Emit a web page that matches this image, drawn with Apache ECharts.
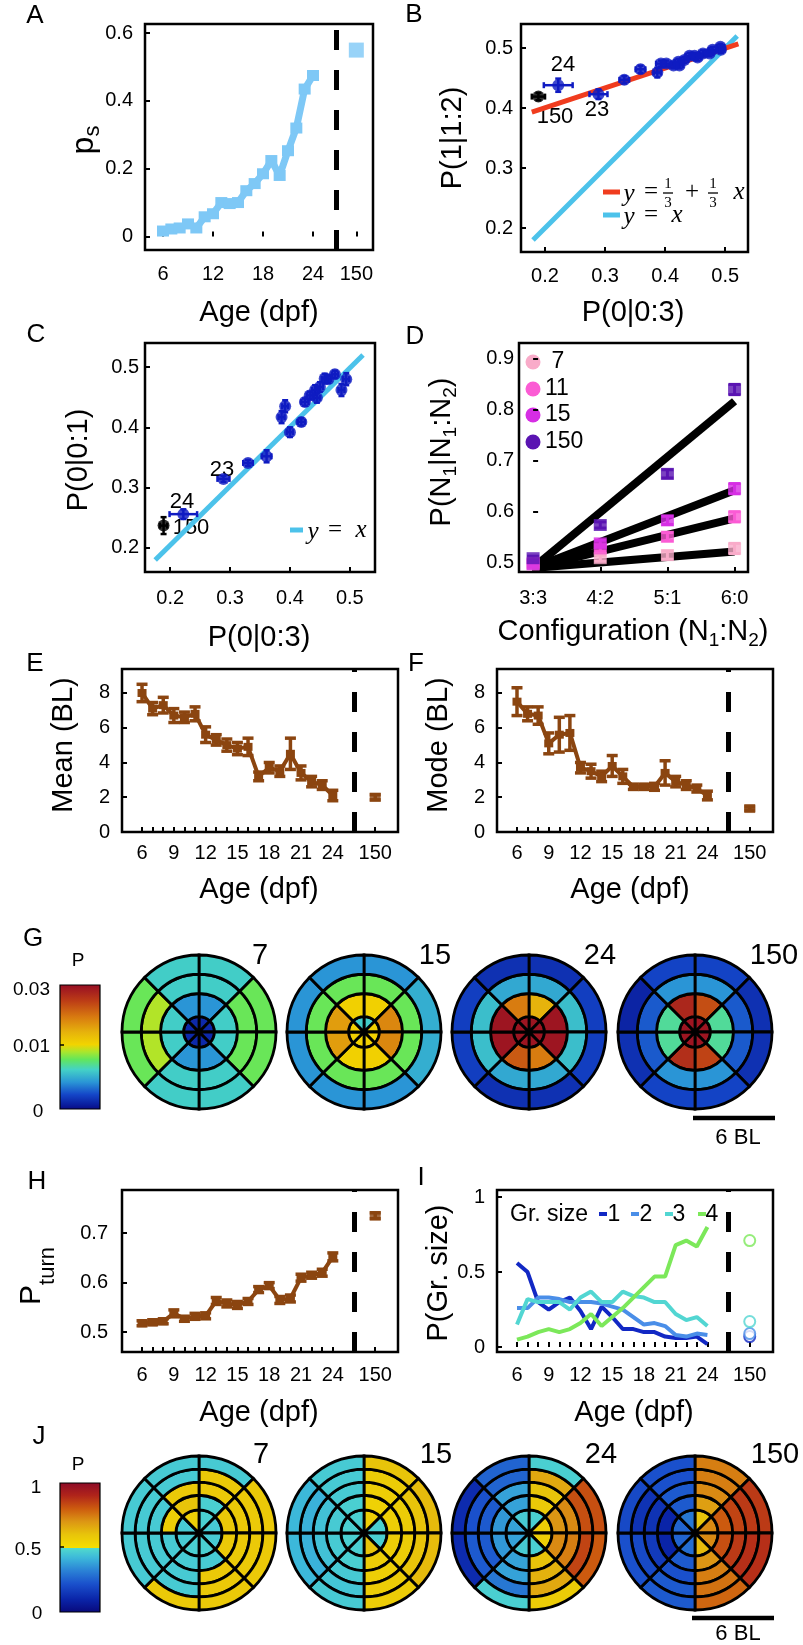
<!DOCTYPE html>
<html>
<head>
<meta charset="utf-8">
<script src="https://cdn.jsdelivr.net/npm/echarts@6/dist/echarts.min.js"></script>
<style>
  html, body { margin: 0; padding: 0; background: #fff; }
  #chart { width: 803px; height: 1645px; }
</style>
</head>
<body>
<div id="chart"></div>
<script>
"use strict";
// ---------- data ----------
const ages = [6, 7, 8, 9, 10, 11, 12, 13, 14, 15, 16, 17, 18, 19, 20, 21, 22, 23, 24];

// A: p_s vs age
const psMean = [0.016, 0.022, 0.025, 0.037, 0.025, 0.058, 0.067, 0.10, 0.097, 0.10, 0.135, 0.156, 0.185, 0.224, 0.18, 0.253, 0.32, 0.435, 0.475];
const ps150 = 0.55;

// B: P(1|1:2) vs P(0|0:3)
const bX = [0.492, 0.493, 0.479, 0.463, 0.474, 0.454, 0.449, 0.4405, 0.432, 0.424, 0.422, 0.414, 0.402, 0.393, 0.387, 0.359, 0.332, 0.289, 0.222];
const bY = [0.502, 0.497, 0.497, 0.491, 0.491, 0.484, 0.487, 0.487, 0.48, 0.471, 0.477, 0.471, 0.474, 0.474, 0.459, 0.4645, 0.447, 0.423, 0.438];
const bXErr = [0.006, 0.006, 0.006, 0.006, 0.006, 0.006, 0.006, 0.006, 0.006, 0.006, 0.006, 0.006, 0.008, 0.008, 0.006, 0.008, 0.008, 0.015, 0.024];
const bYErr = [0.005, 0.005, 0.005, 0.005, 0.005, 0.005, 0.005, 0.005, 0.005, 0.005, 0.005, 0.005, 0.005, 0.005, 0.008, 0.006, 0.006, 0.008, 0.011];
const bAdult = [0.189, 0.419];
const bAdultErr = [0.011, 0.006];
const bFit = [[0.178, 0.393], [0.522, 0.507]];
const bIdentity = [[0.18, 0.18], [0.52, 0.52]];

// C: P(0|0:1) vs P(0|0:3)
const cX = [0.494, 0.486, 0.475, 0.464, 0.458, 0.45, 0.445, 0.442, 0.433, 0.425, 0.419, 0.4, 0.392, 0.386, 0.361, 0.33, 0.289, 0.222];
const cY = [0.48, 0.462, 0.488, 0.48, 0.481, 0.467, 0.449, 0.462, 0.453, 0.442, 0.409, 0.392, 0.435, 0.417, 0.352, 0.341, 0.3145, 0.256];
const cXErr = [0.005, 0.005, 0.005, 0.005, 0.005, 0.005, 0.005, 0.005, 0.005, 0.006, 0.006, 0.005, 0.005, 0.005, 0.008, 0.008, 0.01, 0.023];
const cYErr = [0.01, 0.01, 0.006, 0.006, 0.008, 0.008, 0.008, 0.008, 0.006, 0.006, 0.006, 0.008, 0.01, 0.01, 0.01, 0.005, 0.005, 0.008];
const cAdult = [0.189, 0.237];
const cAdultErr = [0.006, 0.014];
const cIdentity = [[0.175, 0.18], [0.522, 0.52]];

// D: P(N1|N1:N2) vs configuration
const configs = ['3:3', '4:2', '5:1', '6:0'];
const dAges = ['7', '11', '15', '150'];
const d7 = [0.497, 0.509, 0.515, 0.528];
const d11 = [0.5, 0.528, 0.551, 0.59];
const d15 = [0.497, 0.538, 0.583, 0.645];
const d150 = [0.509, 0.574, 0.674, 0.839];
const dErr = [0.004, 0.006, 0.008, 0.01];
const dFitStart = 0.49;
const dFitEnd = [0.522, 0.587, 0.642, 0.816];

// E, F: mean / mode distance (BL)
const eMean = [8.0, 7.1, 7.3, 6.7, 6.6, 6.8, 5.6, 5.3, 5.0, 4.8, 4.9, 3.2, 3.7, 3.5, 4.5, 3.4, 2.9, 2.7, 2.1];
const eErr = [0.5, 0.35, 0.45, 0.4, 0.3, 0.4, 0.45, 0.3, 0.35, 0.35, 0.5, 0.25, 0.3, 0.3, 0.9, 0.4, 0.3, 0.25, 0.3];
const eMean150 = 2.0, eErr150 = 0.15;
const fMode = [7.5, 6.8, 6.7, 5.1, 5.6, 5.7, 3.7, 3.5, 3.2, 3.8, 3.2, 2.6, 2.6, 2.6, 3.4, 2.9, 2.7, 2.5, 2.1];
const fErr = [0.8, 0.4, 0.5, 0.6, 1.0, 1.0, 0.3, 0.4, 0.3, 0.6, 0.4, 0.15, 0.15, 0.2, 0.7, 0.3, 0.25, 0.2, 0.25];
const fMode150 = 1.35, fErr150 = 0.1;

// H: P_turn
const hTurn = [0.518, 0.52, 0.522, 0.538, 0.527, 0.532, 0.533, 0.563, 0.558, 0.555, 0.562, 0.586, 0.594, 0.565, 0.568, 0.61, 0.615, 0.62, 0.652];
const hErr = [0.005, 0.005, 0.005, 0.007, 0.005, 0.006, 0.006, 0.007, 0.007, 0.007, 0.006, 0.006, 0.006, 0.007, 0.007, 0.007, 0.006, 0.007, 0.008];
const hTurn150 = 0.735, hErr150 = 0.006;

// I: group size probabilities
const groupSizes = ['1', '2', '3', '4'];
const iSize1 = [0.56, 0.5, 0.3, 0.25, 0.3, 0.33, 0.24, 0.12, 0.27, 0.2, 0.12, 0.12, 0.1, 0.1, 0.07, 0.06, 0.06, 0.07, 0.02];
const iSize2 = [0.26, 0.26, 0.33, 0.33, 0.32, 0.3, 0.3, 0.3, 0.29, 0.27, 0.25, 0.2, 0.15, 0.16, 0.14, 0.08, 0.07, 0.09, 0.08];
const iSize3 = [0.15, 0.32, 0.3, 0.3, 0.3, 0.25, 0.33, 0.37, 0.3, 0.3, 0.37, 0.34, 0.33, 0.3, 0.3, 0.22, 0.18, 0.2, 0.14];
const iSize4 = [0.05, 0.07, 0.1, 0.12, 0.1, 0.12, 0.16, 0.22, 0.14, 0.2, 0.26, 0.33, 0.4, 0.47, 0.47, 0.68, 0.71, 0.67, 0.8];
const iAdult = [0.07, 0.09, 0.17, 0.71];

// G: spatial density P (rings inner->outer, sectors clockwise from north)
const gRingWidths = [0.2, 0.3, 0.25, 0.25];
const g7 = [
  [0.0012, 0.0012, 0.0012, 0.0012, 0.0012, 0.0012, 0.0012, 0.0012],
  [0.0042, 0.006, 0.006, 0.0042, 0.0042, 0.006, 0.006, 0.0042],
  [0.006, 0.0078, 0.0078, 0.006, 0.006, 0.009, 0.009, 0.006],
  [0.006, 0.0078, 0.0078, 0.006, 0.006, 0.0078, 0.0078, 0.006]
];
const g15 = [
  [0.006, 0.0105, 0.0105, 0.0105, 0.0105, 0.0105, 0.0105, 0.006],
  [0.0105, 0.018, 0.018, 0.0105, 0.0105, 0.016, 0.016, 0.0105],
  [0.0078, 0.0078, 0.0078, 0.0078, 0.0078, 0.0078, 0.0078, 0.0078],
  [0.0042, 0.005, 0.005, 0.0042, 0.0042, 0.0042, 0.0042, 0.0042]
];
const g24 = [
  [0.029, 0.029, 0.029, 0.029, 0.029, 0.029, 0.029, 0.029],
  [0.014, 0.029, 0.029, 0.019, 0.022, 0.029, 0.029, 0.019],
  [0.0048, 0.0055, 0.0055, 0.0048, 0.0048, 0.0055, 0.0055, 0.0048],
  [0.0015, 0.002, 0.002, 0.0015, 0.0015, 0.002, 0.002, 0.0015]
];
const g150 = [
  [0.029, 0.029, 0.029, 0.029, 0.029, 0.029, 0.029, 0.029],
  [0.023, 0.0068, 0.0068, 0.024, 0.026, 0.0068, 0.0068, 0.027],
  [0.0042, 0.0028, 0.0028, 0.0042, 0.0042, 0.0028, 0.0028, 0.0042],
  [0.0022, 0.0015, 0.0015, 0.0022, 0.0022, 0.0015, 0.001, 0.0022]
];

// J: turning probability P
const jRingWidths = [0.3, 0.19, 0.17, 0.17, 0.17];
const j7 = [
  [0.47, 0.46, 0.46, 0.47, 0.47, 0.46, 0.46, 0.56],
  [0.47, 0.58, 0.58, 0.46, 0.46, 0.46, 0.56, 0.6],
  [0.58, 0.58, 0.58, 0.58, 0.46, 0.46, 0.46, 0.58],
  [0.58, 0.58, 0.58, 0.58, 0.46, 0.46, 0.46, 0.46],
  [0.46, 0.58, 0.58, 0.58, 0.58, 0.46, 0.46, 0.46]
];
const j15 = [
  [0.56, 0.47, 0.47, 0.6, 0.47, 0.47, 0.47, 0.47],
  [0.55, 0.56, 0.57, 0.57, 0.47, 0.46, 0.46, 0.47],
  [0.56, 0.57, 0.57, 0.56, 0.46, 0.44, 0.44, 0.46],
  [0.57, 0.6, 0.6, 0.57, 0.45, 0.41, 0.41, 0.46],
  [0.6, 0.62, 0.62, 0.57, 0.46, 0.42, 0.42, 0.46]
];
const j24 = [
  [0.47, 0.56, 0.56, 0.47, 0.46, 0.38, 0.38, 0.46],
  [0.58, 0.7, 0.72, 0.6, 0.38, 0.36, 0.36, 0.38],
  [0.6, 0.72, 0.74, 0.64, 0.38, 0.24, 0.24, 0.38],
  [0.66, 0.82, 0.84, 0.66, 0.3, 0.24, 0.22, 0.26],
  [0.47, 0.82, 0.8, 0.57, 0.47, 0.12, 0.12, 0.26]
];
const j150 = [
  [0.6, 0.72, 0.72, 0.62, 0.28, 0.26, 0.26, 0.3],
  [0.68, 0.8, 0.82, 0.7, 0.24, 0.1, 0.1, 0.24],
  [0.72, 0.84, 0.86, 0.74, 0.22, 0.16, 0.14, 0.24],
  [0.74, 0.86, 0.88, 0.76, 0.24, 0.2, 0.14, 0.22],
  [0.74, 0.86, 0.88, 0.78, 0.24, 0.22, 0.2, 0.22]
];

// ---------- styling ----------
const FONT = "'Liberation Sans', Arial, Helvetica, sans-serif";
const SERIF = "'Liberation Serif', 'DejaVu Serif', serif";
const LIGHTBLUE = '#7ec8f6';
const BROWN = '#8b4510';
const BLUE = '#0f1bc2';
const RED = '#f03c1e';
const CYAN = '#4cc2ea';
const dColors = ['#f9abc9', '#fb5bd4', '#d62ee4', '#5a14b2'];
const iColors = ['#1228c4', '#4a8ee8', '#52d6d2', '#7ce85a'];

// x positions used for the adult (150 dpf) column and the separator
const POS150_A = 29.2, SEP_A = 26.8;
const POS150 = 28.0, SEP = 26.0;

const gStops = [[0, '#0a0a82'], [0.04, '#0a1e9e'], [0.12, '#1446c8'], [0.22, '#2a96d6'], [0.32, '#44d2c6'],
  [0.40, '#62e65c'], [0.46, '#a8e62e'], [0.52, '#f2d400'], [0.62, '#e6b20c'], [0.74, '#d87a10'], [0.87, '#bc3c16'], [1, '#960c24']];
const jStops = [[0, '#08087a'], [0.1, '#0a24a8'], [0.22, '#1a50cc'], [0.33, '#2c86d6'], [0.42, '#3cb8da'], [0.499, '#52dccc'],
  [0.5, '#f5de00'], [0.6, '#e8c40a'], [0.7, '#dc9614'], [0.8, '#cc5a0f'], [0.9, '#b0241a'], [1, '#8c0a28']];

const hex = (c) => [parseInt(c.slice(1, 3), 16), parseInt(c.slice(3, 5), 16), parseInt(c.slice(5, 7), 16)];
const makeMap = (stops) => (t) => {
  t = Math.max(0, Math.min(1, t));
  for (let i = 0; i < stops.length - 1; i++) {
    const [t0, c0] = stops[i], [t1, c1] = stops[i + 1];
    if (t >= t0 && t <= t1) {
      const f = t1 === t0 ? 0 : (t - t0) / (t1 - t0);
      const a = hex(c0), b = hex(c1);
      return 'rgb(' + a.map((v, k) => Math.round(v + (b[k] - v) * f)).join(',') + ')';
    }
  }
  return stops[stops.length - 1][1];
};
const gMap = makeMap(gStops);
const jMap = makeMap(jStops);
const gColor = (p) => gMap(p <= 0.01 ? 0.52 * p / 0.01 : 0.52 + 0.48 * (p - 0.01) / 0.02);
const jColor = (p) => jMap(p);

// ---------- grids and axes ----------
const boxes = [
  [145, 24, 228, 226],   // A
  [521, 24, 227, 228],   // B
  [145, 343, 230, 229],  // C
  [519, 343, 229, 229],  // D
  [122, 669, 276, 163],  // E
  [497, 669, 276, 163],  // F
  [122, 1190, 276, 162], // H
  [497, 1190, 276, 162]  // I
];
const grid = boxes.map(([left, top, width, height]) => ({
  left, top, width, height, show: true, borderColor: '#000', borderWidth: 2.5, containLabel: false
}));

const makeAxis = (dim, gi, min, max, ticks, labels, fmt, margin) => ({
  type: 'value', gridIndex: gi, min, max, position: dim === 'x' ? 'bottom' : 'left',
  axisLine: { show: false },
  axisTick: { show: true, inside: true, length: 5, customValues: ticks, lineStyle: { color: '#000', width: 2 } },
  axisLabel: { show: true, customValues: labels, formatter: fmt, margin, fontSize: 20, color: '#000', fontFamily: FONT },
  splitLine: { show: false }
});
const fix1 = (v) => (v === 0 ? '0' : v.toFixed(1));
const ageFmt = (p150) => (v) => (Math.abs(v - p150) < 1e-6 ? '150' : String(Math.round(v)));
const dayTicks = ages.concat([POS150]);
const dayLabels = [6, 9, 12, 15, 18, 21, 24, POS150];

const xAxis = [
  makeAxis('x', 0, 3.84, 31.2, [6, 12, 18, 24, POS150_A], [6, 12, 18, 24, POS150_A], ageFmt(POS150_A), 14),
  makeAxis('x', 1, 0.16, 0.538, [0.2, 0.3, 0.4, 0.5], [0.2, 0.3, 0.4, 0.5], fix1, 14),
  makeAxis('x', 2, 0.158, 0.542, [0.2, 0.3, 0.4, 0.5], [0.2, 0.3, 0.4, 0.5], fix1, 16),
  makeAxis('x', 3, -0.21, 3.2, [0, 1, 2, 3], [0, 1, 2, 3], (v) => configs[Math.round(v)], 16),
  makeAxis('x', 4, 4.11, 30.15, dayTicks, dayLabels, ageFmt(POS150), 11),
  makeAxis('x', 5, 4.11, 30.2, dayTicks, dayLabels, ageFmt(POS150), 11),
  makeAxis('x', 6, 4.11, 30.15, dayTicks, dayLabels, ageFmt(POS150), 13),
  makeAxis('x', 7, 4.11, 30.2, dayTicks, dayLabels, ageFmt(POS150), 13)
];
const yAxis = [
  makeAxis('y', 0, -0.04, 0.627, [0, 0.2, 0.4, 0.6], [0, 0.2, 0.4, 0.6], fix1, 12),
  makeAxis('y', 1, 0.16, 0.54, [0.2, 0.3, 0.4, 0.5], [0.2, 0.3, 0.4, 0.5], fix1, 8),
  makeAxis('y', 2, 0.16, 0.54, [0.2, 0.3, 0.4, 0.5], [0.2, 0.3, 0.4, 0.5], fix1, 6),
  makeAxis('y', 3, 0.482, 0.93, [0.5, 0.6, 0.7, 0.8, 0.9], [0.5, 0.6, 0.7, 0.8, 0.9], fix1, 5),
  makeAxis('y', 4, 0, 9.38, [0, 2, 4, 6, 8], [0, 2, 4, 6, 8], (v) => String(v), 12),
  makeAxis('y', 5, 0, 9.38, [0, 2, 4, 6, 8], [0, 2, 4, 6, 8], (v) => String(v), 12),
  makeAxis('y', 6, 0.46, 0.787, [0.5, 0.6, 0.7], [0.5, 0.6, 0.7], fix1, 14),
  makeAxis('y', 7, -0.033, 1.047, [0, 0.5, 1], [0, 0.5, 1], (v) => (v === 1 ? '1' : v === 0 ? '0' : '0.5'), 12)
];

// ---------- series helpers ----------
const errRender = (color, cap, lw, horiz) => (params, api) => {
  const a = api.value(0), lo = api.value(1), hi = api.value(2);
  const p1 = horiz ? api.coord([lo, a]) : api.coord([a, lo]);
  const p2 = horiz ? api.coord([hi, a]) : api.coord([a, hi]);
  const st = { stroke: color, lineWidth: lw };
  const kids = [{ type: 'line', shape: { x1: p1[0], y1: p1[1], x2: p2[0], y2: p2[1] }, style: st }];
  if (cap) {
    for (const p of [p1, p2]) {
      kids.push(horiz
        ? { type: 'line', shape: { x1: p[0], y1: p[1] - cap, x2: p[0], y2: p[1] + cap }, style: st }
        : { type: 'line', shape: { x1: p[0] - cap, y1: p[1], x2: p[0] + cap, y2: p[1] }, style: st });
    }
  }
  return { type: 'group', children: kids };
};
const errSeries = (gi, rows, color, cap, lw, horiz) => ({
  type: 'custom', xAxisIndex: gi, yAxisIndex: gi, data: rows, silent: true, z: 3,
  encode: horiz ? { x: [1, 2], y: 0 } : { x: 0, y: [1, 2] },
  renderItem: errRender(color, cap, lw, horiz)
});
const sepLine = (x) => ({
  silent: true, symbol: ['none', 'none'], label: { show: false },
  lineStyle: { color: '#000', width: 5, type: [20, 20] },
  data: [{ xAxis: x }]
});
const pts = (xs, ys) => xs.map((x, i) => [x, ys[i]]);

const series = [];

// A
series.push({
  type: 'line', xAxisIndex: 0, yAxisIndex: 0, data: pts(ages, psMean), z: 4,
  lineStyle: { color: LIGHTBLUE, width: 7 }, itemStyle: { color: LIGHTBLUE },
  symbol: 'rect', symbolSize: [12, 11], markLine: sepLine(SEP_A)
});
series.push({ type: 'scatter', xAxisIndex: 0, yAxisIndex: 0, data: [[POS150_A, ps150]], symbol: 'rect', symbolSize: [15, 15], itemStyle: { color: LIGHTBLUE } });

// B
series.push({ type: 'line', xAxisIndex: 1, yAxisIndex: 1, data: bIdentity, symbol: 'none', lineStyle: { color: CYAN, width: 5 }, z: 2 });
series.push({ type: 'line', xAxisIndex: 1, yAxisIndex: 1, data: bFit, symbol: 'none', lineStyle: { color: RED, width: 5 }, z: 2 });
series.push(errSeries(1, bX.map((x, i) => [x, bY[i] - bYErr[i], bY[i] + bYErr[i]]), BLUE, 3, 2.5, false));
series.push(errSeries(1, bY.map((y, i) => [y, bX[i] - bXErr[i], bX[i] + bXErr[i]]), BLUE, 3, 2.5, true));
series.push({ type: 'scatter', xAxisIndex: 1, yAxisIndex: 1, data: pts(bX, bY), symbol: 'circle', symbolSize: 12, itemStyle: { color: BLUE }, z: 4 });
series.push(errSeries(1, [[bAdult[0], bAdult[1] - bAdultErr[1], bAdult[1] + bAdultErr[1]]], '#000', 3, 2.5, false));
series.push(errSeries(1, [[bAdult[1], bAdult[0] - bAdultErr[0], bAdult[0] + bAdultErr[0]]], '#000', 3, 2.5, true));
series.push({ type: 'scatter', xAxisIndex: 1, yAxisIndex: 1, data: [bAdult], symbol: 'circle', symbolSize: 12, itemStyle: { color: '#000' }, z: 4 });

// C
series.push({ type: 'line', xAxisIndex: 2, yAxisIndex: 2, data: cIdentity, symbol: 'none', lineStyle: { color: CYAN, width: 5 }, z: 2 });
series.push(errSeries(2, cX.map((x, i) => [x, cY[i] - cYErr[i], cY[i] + cYErr[i]]), BLUE, 3, 2.5, false));
series.push(errSeries(2, cY.map((y, i) => [y, cX[i] - cXErr[i], cX[i] + cXErr[i]]), BLUE, 3, 2.5, true));
series.push({ type: 'scatter', xAxisIndex: 2, yAxisIndex: 2, data: pts(cX, cY), symbol: 'circle', symbolSize: 12, itemStyle: { color: BLUE }, z: 4 });
series.push(errSeries(2, [[cAdult[0], cAdult[1] - cAdultErr[1], cAdult[1] + cAdultErr[1]]], '#000', 3, 2.5, false));
series.push(errSeries(2, [[cAdult[1], cAdult[0] - cAdultErr[0], cAdult[0] + cAdultErr[0]]], '#000', 3, 2.5, true));
series.push({ type: 'scatter', xAxisIndex: 2, yAxisIndex: 2, data: [cAdult], symbol: 'circle', symbolSize: 12, itemStyle: { color: '#000' }, z: 4 });

// D
dFitEnd.forEach((end) => {
  series.push({ type: 'line', xAxisIndex: 3, yAxisIndex: 3, data: [[0, dFitStart], [3, end]], symbol: 'none', lineStyle: { color: '#000', width: 8 }, z: 2 });
});
[d7, d11, d15, d150].forEach((vals, k) => {
  series.push(errSeries(3, vals.map((v, i) => [i, v - dErr[i], v + dErr[i]]), dColors[k], 6, 3, false));
  series.push({ type: 'scatter', xAxisIndex: 3, yAxisIndex: 3, data: vals.map((v, i) => [i, v]), symbol: 'rect', symbolSize: [13, 12], itemStyle: { color: dColors[k] }, z: 4 });
});

// E, F, H (brown error-bar lines)
const brownPanel = (gi, vals, errs, v150, e150, cap) => {
  series.push(errSeries(gi, vals.map((v, i) => [ages[i], v - errs[i], v + errs[i]]), BROWN, cap, 3.5, false));
  series.push({
    type: 'line', xAxisIndex: gi, yAxisIndex: gi, data: pts(ages, vals), z: 4,
    lineStyle: { color: BROWN, width: 4 }, itemStyle: { color: BROWN },
    symbol: 'rect', symbolSize: [9, 8], markLine: sepLine(SEP)
  });
  series.push(errSeries(gi, [[POS150, v150 - e150, v150 + e150]], BROWN, cap, 3.5, false));
  series.push({ type: 'scatter', xAxisIndex: gi, yAxisIndex: gi, data: [[POS150, v150]], symbol: 'rect', symbolSize: [11, 9], itemStyle: { color: BROWN } });
};
brownPanel(4, eMean, eErr, eMean150, eErr150, 5.5);
brownPanel(5, fMode, fErr, fMode150, fErr150, 5.5);
brownPanel(6, hTurn, hErr, hTurn150, hErr150, 5.5);

// I
[iSize1, iSize2, iSize3, iSize4].forEach((vals, k) => {
  series.push({
    type: 'line', xAxisIndex: 7, yAxisIndex: 7, data: pts(ages, vals), symbol: 'none',
    lineStyle: { color: iColors[k], width: 4 }, z: 3,
    markLine: k === 0 ? sepLine(SEP) : undefined
  });
});
iAdult.forEach((v, k) => {
  series.push({ type: 'scatter', xAxisIndex: 7, yAxisIndex: 7, data: [[POS150, v]], symbol: 'emptyCircle', symbolSize: 11, itemStyle: { color: iColors[k], borderWidth: 3.5 }, z: 4 });
});

// ---------- polar rosettes (G and J) ----------
const circleX = [199, 364, 529, 695];
const rosettes = [];
[g7, g15, g24, g150].forEach((cells, k) => rosettes.push({ cells, cx: circleX[k], cy: 1032, rings: gRingWidths, color: gColor }));
[j7, j15, j24, j150].forEach((cells, k) => rosettes.push({ cells, cx: circleX[k], cy: 1533, rings: jRingWidths, color: jColor }));

const polar = rosettes.map((r) => ({ center: [r.cx, r.cy], radius: 77 }));
const angleAxis = rosettes.map((r, k) => ({
  polarIndex: k, type: 'category', data: ['0', '1', '2', '3', '4', '5', '6', '7'], startAngle: 90, clockwise: true,
  boundaryGap: true, axisLine: { show: false }, axisTick: { show: false }, axisLabel: { show: false }, splitLine: { show: false }
}));
const radiusAxis = rosettes.map((r, k) => ({
  polarIndex: k, type: 'value', min: 0, max: 1,
  axisLine: { show: false }, axisTick: { show: false }, axisLabel: { show: false }, splitLine: { show: false }
}));
rosettes.forEach((r, k) => {
  r.cells.forEach((ring, ri) => {
    series.push({
      type: 'bar', coordinateSystem: 'polar', polarIndex: k, stack: 'ring' + k, barCategoryGap: '0%', silent: true,
      data: ring.map((p) => ({ value: r.rings[ri], itemStyle: { color: r.color(p) } })),
      itemStyle: { borderColor: '#000', borderWidth: 2.8 }
    });
  });
});

// ---------- text, legends, colorbars ----------
const gfx = [];
const ctx = document.createElement('canvas').getContext('2d');
const measure = (s, size, fam, st) => { ctx.font = (st || 'normal') + ' ' + size + 'px ' + (fam || FONT); return ctx.measureText(s).width; };
const text = (x, y, s, size, extra) => gfx.push({
  type: 'text', x, y, silent: true, rotation: (extra && extra.rot) || 0,
  style: Object.assign({ text: s, fontSize: size, fontFamily: FONT, fill: '#000', align: 'center', verticalAlign: 'middle' }, (extra && extra.style) || {})
});
const composite = (x, y, parts, rot) => {
  const total = parts.reduce((w, p) => w + measure(p.t, p.s, p.f, p.st), 0);
  let cur = -total / 2;
  const children = parts.map((p) => {
    const c = { type: 'text', x: cur, y: p.dy || 0, style: { text: p.t, fontSize: p.s, fontFamily: p.f || FONT, fontStyle: p.st || 'normal', fill: '#000', align: 'left', verticalAlign: 'middle' } };
    cur += measure(p.t, p.s, p.f, p.st);
    return c;
  });
  gfx.push({ type: 'group', x, y, rotation: rot || 0, silent: true, children });
};
const seg = (x1, y1, x2, y2, color, w) => gfx.push({ type: 'line', silent: true, shape: { x1, y1, x2, y2 }, style: { stroke: color, lineWidth: w } });
const V = Math.PI / 2;

// panel letters
[['A', 35, 16], ['B', 414, 15], ['C', 36, 335], ['D', 415, 337], ['E', 35, 664], ['F', 416, 664],
 ['G', 33, 939], ['H', 37, 1182], ['I', 421, 1178], ['J', 39, 1437]].forEach(([s, x, y]) => text(x, y, s, 26));

// axis titles
composite(84, 140, [{ t: 'p', s: 32 }, { t: 's', s: 22, dy: 9 }], V);
text(259, 313, 'Age (dpf)', 29);
text(453, 138, 'P(1|1:2)', 29, { rot: V });
text(633, 313, 'P(0|0:3)', 29);
text(79, 460, 'P(0|0:1)', 29, { rot: V });
text(259, 638, 'P(0|0:3)', 29);
composite(442, 452, [{ t: 'P(N', s: 29 }, { t: '1', s: 19, dy: 9 }, { t: '|N', s: 29 }, { t: '1', s: 19, dy: 9 },
  { t: ':N', s: 29 }, { t: '2', s: 19, dy: 9 }, { t: ')', s: 29 }], V);
composite(633, 632, [{ t: 'Configuration (N', s: 29 }, { t: '1', s: 19, dy: 9 }, { t: ':N', s: 29 }, { t: '2', s: 19, dy: 9 }, { t: ')', s: 29 }]);
text(64, 745, 'Mean (BL)', 29, { rot: V });
text(439, 745, 'Mode (BL)', 29, { rot: V });
text(259, 890, 'Age (dpf)', 29);
text(630, 890, 'Age (dpf)', 29);
composite(32, 1276, [{ t: 'P', s: 30 }, { t: 'turn', s: 22, dy: 16 }], V);
text(439, 1273, 'P(Gr. size)', 29, { rot: V });
text(259, 1413, 'Age (dpf)', 29);
text(634, 1413, 'Age (dpf)', 29);

// point annotations in B and C
text(563, 65, '24', 22); text(555, 117, '150', 22); text(597, 110, '23', 22);
text(182, 502, '24', 22); text(191, 528, '150', 22); text(222, 470, '23', 22);

// B legend
seg(603, 192, 620, 192, RED, 5);
seg(603, 215, 620, 215, CYAN, 5);
const mathT = (x, y, s, size, italic) => text(x, y, s, size, { style: { fontFamily: SERIF, fontStyle: italic ? 'italic' : 'normal' } });
mathT(629, 194, 'y', 25, true); mathT(651, 192, '=', 25, false);
mathT(668, 184, '1', 15, false); seg(663, 193, 673, 193, '#000', 1.3); mathT(668, 203, '3', 15, false);
mathT(692, 192, '+', 25, false);
mathT(713, 184, '1', 15, false); seg(708, 193, 718, 193, '#000', 1.3); mathT(713, 203, '3', 15, false);
mathT(739, 192, 'x', 25, true);
mathT(629, 217, 'y', 25, true); mathT(651, 215, '=', 25, false); mathT(677, 215, 'x', 25, true);

// C legend
seg(290, 530, 303, 530, CYAN, 5);
mathT(313, 532, 'y', 25, true); mathT(335, 530, '=', 25, false); mathT(361, 530, 'x', 25, true);

// D legend
[362, 389, 415, 442].forEach((y, k) => {
  gfx.push({ type: 'circle', silent: true, shape: { cx: 533, cy: y, r: 7.5 }, style: { fill: dColors[k] } });
  text(545, y, k === 0 ? ' ' + dAges[k] : dAges[k], 23, { style: { align: 'left' } });
});

// I legend
text(510, 1215, 'Gr. size', 23, { style: { align: 'left' } });
[[599, 614], [631, 646], [665, 679], [698, 712]].forEach(([dx, tx], k) => {
  seg(dx, 1214, dx + 8, 1214, iColors[k], 4);
  text(tx, 1215, groupSizes[k], 23);
});

// circle age labels
[[260, '7'], [435, '15'], [600, '24'], [774, '150']].forEach(([x, s]) => { text(x, 956, s, 29); text(x + 1, 1455, s, 29); });

// colorbars
const gradient = (stops, toT) => new echarts.graphic.LinearGradient(0, 0, 0, 1,
  stops.map(([t, c]) => ({ offset: 1 - toT(t), color: c })).reverse());
gfx.push({ type: 'rect', silent: true, shape: { x: 60, y: 985, width: 40, height: 124 }, style: { fill: gradient(gStops, (t) => t), stroke: '#000', lineWidth: 1.2 } });
gfx.push({ type: 'rect', silent: true, shape: { x: 60, y: 1483, width: 40, height: 129 }, style: { fill: gradient(jStops, (t) => t), stroke: '#000', lineWidth: 1.2 } });
seg(60, 1045, 64, 1045, '#000', 1.5);
seg(60, 1547, 64, 1547, '#000', 1.5);
text(78, 961, 'P', 19); text(78, 1465, 'P', 19);
text(50, 990, '0.03', 19, { style: { align: 'right' } });
text(50, 1047, '0.01', 19, { style: { align: 'right' } });
text(38, 1112, '0', 19);
text(36, 1488, '1', 19);
text(28, 1550, '0.5', 19);
text(37, 1614, '0', 19);

// scale bars
seg(693, 1118, 775, 1118, '#000', 4.5);
text(738, 1138, '6 BL', 22);
seg(692, 1618, 774, 1618, '#000', 4.5);
text(738, 1634, '6 BL', 22);

// ---------- render ----------
const chart = echarts.init(document.getElementById('chart'));
chart.setOption({
  animation: false,
  backgroundColor: '#fff',
  textStyle: { fontFamily: FONT },
  grid, xAxis, yAxis, polar, angleAxis, radiusAxis, series,
  graphic: gfx
});
</script>
</body>
</html>
